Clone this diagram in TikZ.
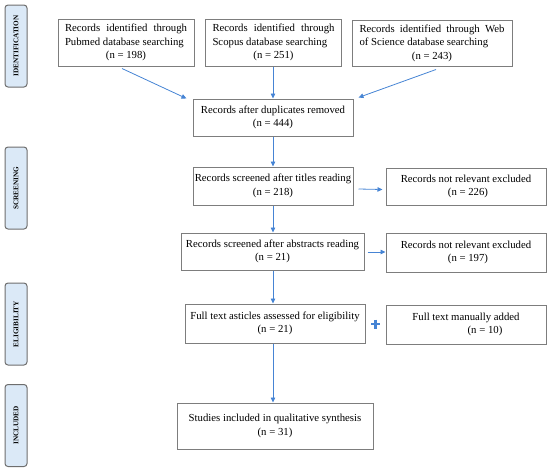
\documentclass[tikz,border=0pt]{standalone}
\usepackage{fontspec}
\setmainfont{Liberation Serif}
\usetikzlibrary{arrows.meta,calc}
\definecolor{arr}{RGB}{70,132,212}
\definecolor{bord}{RGB}{125,125,125}
\definecolor{sidefill}{RGB}{219,233,247}
\definecolor{sidebord}{RGB}{110,110,110}
\begin{document}
\begin{tikzpicture}[x=1pt,y=-1pt,
  box/.style={draw=bord,line width=1pt,fill=white,align=center,
    font=\fontsize{10.75}{13.5}\selectfont,inner sep=0pt},
  jbox/.style={box,align=justify},
  side/.style={draw=sidebord,line width=1pt,fill=sidefill,rounded corners=3pt,
    rotate=90,minimum width=82pt,minimum height=22pt,inner sep=0pt,
    font=\fontsize{7.2}{8}\selectfont\bfseries},
  arrow/.style={draw=arr,line width=0.8pt,-{Triangle[length=5pt,width=4.5pt]}}]
\useasboundingbox (0,0) rectangle (550,472);
% side labels
\node[side] (sid) at (16,46) {IDENTIFICATION};
\node[side] (sscr) at (16,188) {SCREENING};
\node[side] (seli) at (16,324) {ELIGIBILITY};
\node[side] (sinc) at (16,425.5) {INCLUDED};
% boxes
\node[jbox,minimum width=136pt,minimum height=47pt,text width=122pt] (pub) at (126,42.5)
  {Records identified through Pubmed database searching\par{\centering (n = 198)\par}};
\node[jbox,minimum width=136pt,minimum height=47pt,text width=122pt] (sco) at (273.5,42.5)
  {Records identified through Scopus database searching\par{\centering (n = 251)\par}};
\node[jbox,minimum width=160pt,minimum height=46pt,text width=145pt] (wos) at (432,43)
  {Records identified through Web of Science database searching\par{\centering (n = 243)\par}};
\node[box,minimum width=160pt,minimum height=37pt] (dup) at (273,117.5)
  {Records after duplicates removed\\(n = 444)};
\node[box,minimum width=160pt,minimum height=38pt] (tit) at (273,186)
  {Records screened after titles reading\\(n = 218)};
\node[box,minimum width=160pt,minimum height=37pt] (nr1) at (466,186.5)
  {Records not relevant excluded\\\hspace*{4pt}(n = 226)};
\node[box,minimum width=183pt,minimum height=37pt] (abs) at (272.5,251.5)
  {Records screened after abstracts reading\\(n = 21)};
\node[box,minimum width=160pt,minimum height=39pt] (nr2) at (466,252.5)
  {Records not relevant excluded\\\hspace*{4pt}(n = 197)};
\node[box,minimum width=180pt,minimum height=39pt] (ful) at (275,323.5)
  {Full text asticles assessed for eligibility\\(n = 21)};
\node[box,minimum width=160pt,minimum height=39pt] (man) at (466,324.5)
  {Full text manually added\\\hspace*{38pt}(n = 10)};
\node[box,minimum width=196pt,minimum height=46pt] (stu) at (275,426)
  {Studies included in qualitative synthesis\\(n = 31)};
% connectors
\coordinate (pubend) at ($(dup.north west)+(-6,0)$);
\coordinate (wosend) at ($(dup.north east)+(5,-1)$);
\draw[arrow] ($(pub.south)+(-4,2)$) -- (pubend);
\draw[arrow] ($(wos.south)+(4,3)$) -- (wosend);
\draw[arrow] (sco.south -| dup.north) -- (dup.north);
\draw[arrow] (dup.south) -- (tit.north);
\draw[arrow] ($(tit.east)+(5,3)$) -- ($(nr1.west)+(-3,3)$);
\draw[arrow] (tit.south) -- (tit.south |- abs.north);
\draw[arrow] ($(abs.east)+(3,0.5)$) -- ($(nr2.west)+(0,-0.5)$);
\draw[arrow] (abs.south -| tit.south) -- (tit.south |- ful.north);
\draw[arrow] (ful.south -| tit.south) -- (tit.south |- stu.north);
% plus sign
\coordinate (plus) at ($(ful.east)!0.5!(man.west)$);
\draw[arr,line width=2.6pt] ($(plus)+(-4.5,0)$) -- ($(plus)+(4.5,0)$);
\draw[arr,line width=2.6pt] ($(plus)+(0,-4.5)$) -- ($(plus)+(0,4.5)$);
\end{tikzpicture}
\end{document}
